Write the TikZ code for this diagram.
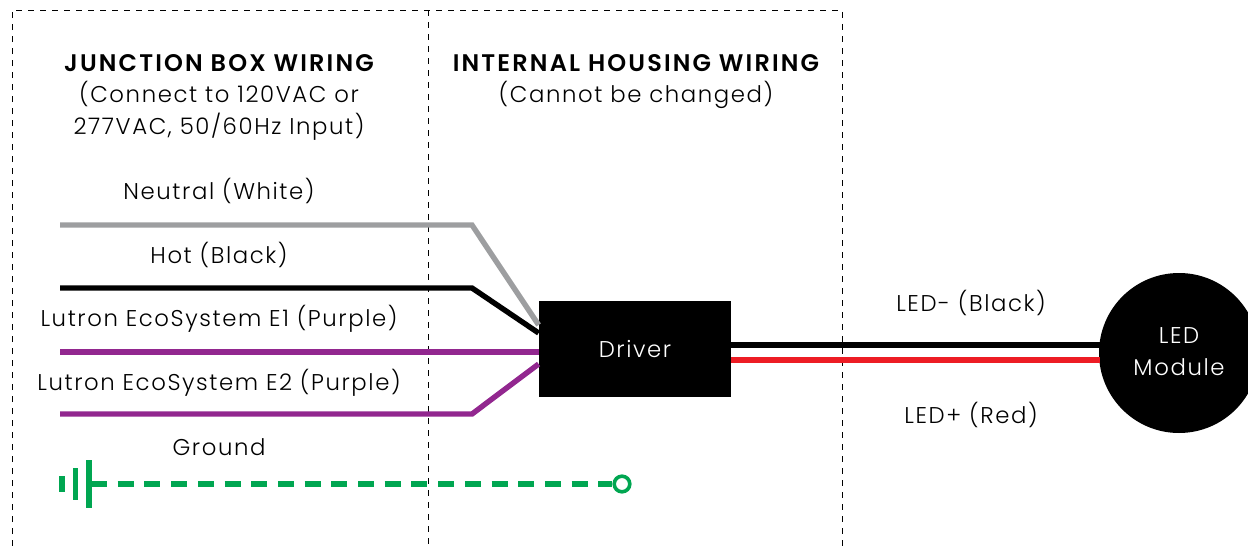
\documentclass[tikz,border=0pt]{standalone}
\usepackage{fontspec}
\setmainfont{Poppins Light}[LetterSpace=7,BoldFont={Poppins SemiBold},BoldFeatures={LetterSpace=9}]
\usepackage{tikz}
\definecolor{wiregray}{HTML}{9D9EA0}
\definecolor{wirepurple}{HTML}{92278F}
\definecolor{wirered}{HTML}{ED1C24}
\definecolor{wiregreen}{HTML}{00A651}
\tikzset{
    lbl/.style={text=black, font=\fontsize{11.4}{16}\selectfont, align=center, inner sep=0pt},
    head/.style={lbl, font=\fontsize{12}{16}\selectfont\bfseries},
    zone/.style={line width=0.5pt, dash pattern=on 3pt off 3pt},
    wire/.style={line width=2.7pt, line join=miter},
    gndbar/.style={wiregreen, line width=2.6pt}
}

\begin{document}
\begin{tikzpicture}[x=0.5pt, y=-0.5pt]
\useasboundingbox (0,0) rectangle (1248,546);

\coordinate (zl) at (12,546);
\coordinate (zt) at (12,10);
\coordinate (zr) at (842,10);
\coordinate (ze) at (842,546);
\coordinate (mt) at (428,10);
\coordinate (mb) at (428,546);
\draw[zone] (zl)--(zt)--(zr)--(ze);
\draw[zone] (mt)--(mb);

\node[fill=black, rectangle, minimum width=96pt, minimum height=48pt, inner sep=0pt,
    text=white, font=\fontsize{11.4}{16}\selectfont] (driver) at (635,349) {\raisebox{-1pt}{Driver}};
\node[fill=black, circle, minimum size=80pt, inner sep=0pt, align=center,
    text=white, font=\fontsize{11.4}{16}\selectfont] (module) at (1179,353) {\raisebox{1pt}{LED}\\\raisebox{1pt}{Module}};
\node[draw=wiregreen, circle, fill=white, line width=1.8pt, minimum size=7.8pt, inner sep=0pt] (gnd) at (622,484) {};

\coordinate (n0) at (60,225);
\coordinate (n1) at (472,225);
\coordinate (h0) at (60,288);
\coordinate (h1) at (472,288);
\coordinate (e0) at (60,352);
\coordinate (f0) at (60,414);
\coordinate (f1) at (472,414);
\draw[wire, wiregray] (n0)--(n1)--([yshift=12pt]driver.west);
\draw[wire, black] (h0)--(h1)--([yshift=8pt]driver.west);
\draw[wire, wirepurple] (e0)--(e0 -| driver.west);
\draw[wire, wirepurple] (f0)--(f1)--([yshift=-7.5pt]driver.west);

\coordinate (b0) at (731,345);
\coordinate (b1) at (1100,345);
\coordinate (r0) at (731,360);
\coordinate (r1) at (1100,360);
\draw[wire, black] (b0)--(b1);
\draw[wire, wirered] (r0)--(r1);

\coordinate (g1) at (62,476);
\coordinate (g2) at (62,492);
\coordinate (g3) at (75.5,468);
\coordinate (g4) at (75.5,500);
\coordinate (g5) at (89,460);
\coordinate (g6) at (89,508);
\coordinate (g7) at (89,484);
\coordinate (g8) at (91,484);
\draw[gndbar] (g1)--(g2);
\draw[gndbar] (g3)--(g4);
\draw[gndbar] (g5)--(g6);
\draw[gndbar, dash pattern=on 8pt off 5.35pt] (g8)--(gnd.west);
\draw[gndbar] (g7)--(g8);

\node[head] (junction) at (219,63) {JUNCTION BOX WIRING};
\node[lbl] (input) at (219,111) {(Connect to 120VAC or\\277VAC, 50/60Hz Input)};
\node[head] (housing) at (636,63) {INTERNAL HOUSING WIRING};
\node[lbl] (fixed) at (636,95) {(Cannot be changed)};
\node[lbl] (neutral) at (219,191) {Neutral (White)};
\node[lbl] (hot) at (219,255) {Hot (Black)};
\node[lbl] (lute) at (219,319) {Lutron EcoSystem E1 (Purple)};
\node[lbl] (lutf) at (219,383) {Lutron EcoSystem E2 (Purple)};
\node[lbl] (ground) at (219,447) {Ground};
\node[lbl] (ledm) at (971,303) {LED- (Black)};
\node[lbl] (ledp) at (971,415) {LED+ (Red)};
\end{tikzpicture}
\end{document}
